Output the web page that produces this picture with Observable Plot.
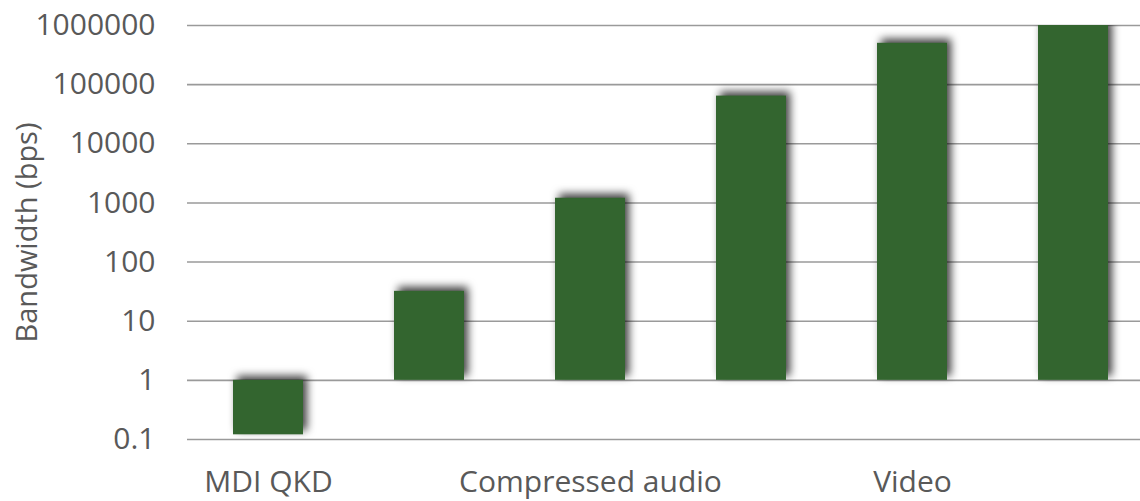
<!DOCTYPE html>
<html>
<head>
<meta charset="utf-8">
<script src="https://cdn.jsdelivr.net/npm/d3@7"></script>
<script src="https://cdn.jsdelivr.net/npm/@observablehq/plot@0.6"></script>
<style>
  html, body { margin: 0; padding: 0; background: #fff; overflow: hidden; }
  svg { display: block; }
</style>
</head>
<body>
<div id="chart"></div>
<script>
// Data
const categoryIds = [0, 1, 2, 3, 4, 5];
const categoryLabels = ["MDI QKD", "", "Compressed audio", "", "Video", ""];
const bandwidth = [0.12, 32, 1200, 64000, 500000, 1000000];
const baseline = 1;
const yTicks = [0.1, 1, 10, 100, 1000, 10000, 100000, 1000000];
const yTickLabels = ["0.1", "1", "10", "100", "1000", "10000", "100000", "1000000"];
const yLabel = "Bandwidth (bps)";

const rows = categoryIds.map((id, i) => ({id, value: bandwidth[i], base: baseline}));

const textColor = "#595959";
const font = "'Open Sans', 'Noto Sans', sans-serif";

const chart = Plot.plot({
  width: 1140,
  height: 501,
  marginLeft: 187,
  marginRight: 0,
  marginTop: 25,
  marginBottom: 62,
  style: {fontFamily: font, fontSize: "30px", color: textColor, background: "#fff"},
  x: {domain: categoryIds, range: [187, 1154], paddingInner: 0.566, paddingOuter: 0.283},
  y: {type: "log", domain: [0.1, 1000000]},
  marks: [
    Plot.ruleY(yTicks, {stroke: "#9a9a9a", strokeWidth: 1.6}),
    Plot.barY(rows, {x: "id", y1: "base", y2: "value", fill: "#33652f", clip: true}),
    Plot.axisY({
      ticks: yTicks,
      tickSize: 0,
      tickPadding: 32,
      tickFormat: (d) => yTickLabels[yTicks.indexOf(d)],
      fill: textColor,
      fontSize: 30,
      label: null
    }),
    Plot.axisX({
      ticks: categoryIds,
      tickSize: 0,
      tickPadding: 31,
      tickFormat: (d) => categoryLabels[d],
      fill: textColor,
      fontSize: 30,
      label: null
    }),
    Plot.text([yLabel], {
      frameAnchor: "left",
      textAnchor: "middle",
      dx: -160,
      rotate: -90,
      fill: textColor,
      fontSize: 29
    })
  ]
});

const barGroup = chart.querySelector('g[aria-label="bar"]');
if (barGroup) barGroup.style.filter = "drop-shadow(4px -4px 4px rgba(0,0,0,0.75))";

document.getElementById("chart").appendChild(chart);
</script>
</body>
</html>
